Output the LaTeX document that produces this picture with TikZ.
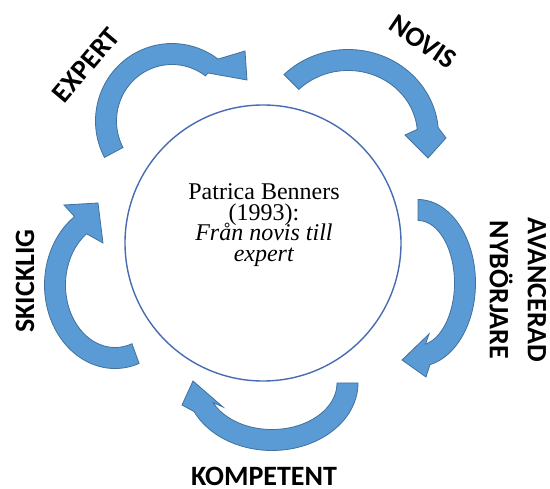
\documentclass[tikz,border=0pt]{standalone}
\usepackage{fontspec}
\setmainfont{Liberation Serif}
\newfontfamily\stagefont{Carlito}
\usepackage{tikz}
\usetikzlibrary{positioning, calc}
\setlength{\lineskiplimit}{-30pt}
\definecolor{arrowblue}{RGB}{91,155,213}
\definecolor{arrowedge}{RGB}{65,113,156}
\definecolor{ringblue}{RGB}{72,108,178}
\tikzset{
    stagearrow/.style={fill=arrowblue, draw=arrowedge, line width=0.8pt, line join=miter},
    stagelbl/.style={font=\stagefont\bfseries\fontsize{28}{38}\selectfont,
                     align=center, inner sep=0pt},
    hub/.style={circle, draw=ringblue, line width=1.4pt, minimum size=276pt, inner sep=0pt},
    hubtext/.style={font=\fontsize{24}{20.5}\selectfont, align=center, inner sep=0pt},
}
% #1 centre, #2/#3 radii, #4 tail angle, #5 head angle, #6 outer barb, #7 tip, #8 inner barb
\newcommand{\cyclearrow}[8]{%
    \draw[stagearrow] ([shift={#1}]#4:#2+10.5 and #3+10.5)
        arc[start angle=#4, end angle=#5, x radius=#2+10.5, y radius=#3+10.5]
        -- #6 -- #7 -- #8 -- ([shift={#1}]#5:#2-10.5 and #3-10.5)
        arc[start angle=#5, end angle=#4, x radius=#2-10.5, y radius=#3-10.5] -- cycle;}

\begin{document}
\begin{tikzpicture}[x=1pt, y=-1pt]
    \useasboundingbox (0,0) rectangle (550,489);
    \fill[white] (0,0) rectangle (550,489);

    \node[hub] (hub) at (263,243) {};
    \node[hubtext] (source) at (264,225)
        {Patrica Benners\\(1993):\\\textit{Från novis till}\\\textit{expert}};

    \node[stagelbl, rotate=50] (expert) at (86,65) {EXPERT};
    \node[stagelbl, rotate=-34] (novis) at (423,42) {NOVIS};
    \node[stagelbl, rotate=-90] (avancerad) at (518,290) {AVANCERAD\\NYBÖRJARE};
    \node[stagelbl] (kompetent) at (264,476) {KOMPETENT};
    \node[stagelbl, rotate=90] (skicklig) at (25,281) {SKICKLIG};

    % expert -> novis
    \cyclearrow{(172,121)}{66}{67}{152}{307}{(245,51)}{(247,80)}{(208,73)}
    % novis -> avancerad nyborjare
    \cyclearrow{(348,135)}{80}{75}{225}{355}{(446,138)}{(428,158)}{(405,135)}
    % avancerad nyborjare -> kompetent
    \cyclearrow{(418,283)}{47}{73}{-90}{78}{(426,377)}{(402,360)}{(429,334)}
    % kompetent -> skicklig
    \cyclearrow{(272,383)}{75.5}{57}{0}{155}{(182,405)}{(193,381)}{(223,407)}
    % skicklig -> expert
    \cyclearrow{(115,285)}{60}{73}{70}{235}{(64,205)}{(98,203)}{(103,243)}
\end{tikzpicture}
\end{document}
